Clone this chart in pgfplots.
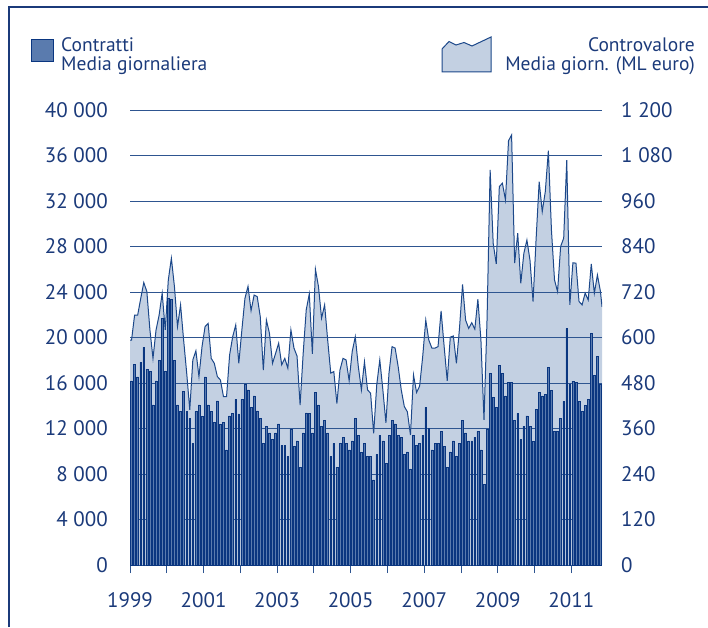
\documentclass[border=0pt]{standalone}
\usepackage{fontspec}
\setmainfont{PT Sans}
\usepackage{pgfplots}
\usepackage{pgfplotstable}
\pgfplotsset{compat=1.18}
\definecolor{navy}{RGB}{27,58,122}
\definecolor{bardraw}{RGB}{10,54,128}
\definecolor{barfill}{RGB}{90,123,174}
\definecolor{areafill}{RGB}{195,208,226}
\definecolor{arealine}{RGB}{28,72,138}
\definecolor{gridc}{RGB}{46,85,144}

\pgfplotstableread{
m v
0 16178
1 17643
2 16530
3 17819
4 19137
5 17204
6 17028
7 14068
8 16178
9 17995
10 21686
11 17028
12 23445
13 23357
14 17995
15 14068
16 13512
17 15240
18 13512
19 12896
20 10699
21 13482
22 14068
23 13043
24 16530
25 14068
26 13482
27 12516
28 14420
29 12369
30 12545
31 10113
32 13102
33 13336
34 14566
35 13277
36 14566
37 15885
38 15387
39 13863
40 14860
41 13541
42 12896
43 10699
44 12193
45 11607
46 11051
47 11607
48 12398
49 10523
50 10523
51 9556
52 11930
53 10435
54 10904
55 8589
56 11607
57 13365
58 13307
59 11607
60 15182
61 14068
62 12193
63 12721
64 11607
65 9556
66 10699
67 8589
68 10699
69 11226
70 10699
71 10113
72 10904
73 12896
74 11402
75 9908
76 10699
77 9556
78 9556
79 7476
80 9732
81 11402
82 10904
83 8941
84 11402
85 12721
86 12398
87 11402
88 11226
89 9732
90 9937
91 8443
92 11402
93 10523
94 10699
95 11402
96 13863
97 12017
98 10113
99 10699
100 10699
101 11753
102 10435
103 8589
104 9937
105 10904
106 9556
107 10699
108 12721
109 11607
110 10904
111 10904
112 11226
113 11753
114 10113
115 7095
116 11930
117 16853
118 14743
119 13865
120 17556
121 16853
122 14861
123 16062
124 16062
125 12722
126 13337
127 11052
128 12194
129 13103
130 12194
131 10876
132 13689
133 15183
134 14861
135 15007
136 17380
137 15359
138 11755
139 11755
140 12898
141 14393
142 20809
143 15886
144 16150
145 16062
146 14393
147 13514
148 14041
149 14568
150 20369
151 16677
152 18347
153 15886
}\bars

\pgfplotstableread{
m r
-0.5 593
0 593
1 659
2 659
3 703
4 745
5 721
6 620
7 545
8 620
9 659
10 717
11 620
12 752
13 809
14 734
15 629
16 686
17 593
18 506
19 409
20 541
21 565
22 497
23 576
24 629
25 637
26 545
27 532
28 497
29 488
30 444
31 444
32 554
33 602
34 633
35 532
36 620
37 703
38 735
39 671
40 712
41 708
42 655
43 514
44 646
45 611
46 532
47 558
48 585
49 528
50 545
51 519
52 620
53 572
54 551
55 422
56 558
57 673
58 715
59 557
60 780
61 734
62 651
63 686
64 593
65 506
66 510
67 426
68 514
69 545
70 541
71 486
72 563
73 602
74 523
75 462
76 536
77 462
78 453
79 347
80 475
81 541
82 462
83 375
84 506
85 576
86 572
87 523
88 462
89 418
90 404
91 343
92 501
93 455
94 472
95 550
96 646
97 593
98 572
99 572
100 576
101 670
102 576
103 486
104 601
105 604
106 532
107 624
108 740
109 646
110 624
111 639
112 622
113 701
114 593
115 383
116 650
117 1042
118 848
119 794
120 998
121 1007
122 963
123 1119
124 1134
125 796
126 875
127 743
128 822
129 857
130 804
131 695
132 860
133 1011
134 932
135 985
136 1093
137 884
138 752
139 721
140 840
141 862
142 1068
143 686
144 797
145 796
146 695
147 686
148 717
149 699
150 794
151 717
152 765
153 721
153.5 681
}\area

\begin{document}
\begin{tikzpicture}[x=1pt,y=1pt]
\path[use as bounding box] (0pt,0pt) rectangle (708pt,627pt);
\draw[navy, line width=2pt] (9pt,0pt) -- (9pt,619.5pt) -- (708pt,619.5pt);

% legend
\draw[bardraw, fill=barfill, line width=1pt] (31pt,565pt) rectangle (53pt,587pt);
\node[anchor=base west, inner sep=0pt, text=navy, font=\fontsize{19.5}{21}\selectfont] at (61pt,575pt) {Contratti};
\node[anchor=base west, inner sep=0pt, text=navy, font=\fontsize{19.5}{21}\selectfont] at (61pt,556.5pt) {Media giornaliera};
\draw[arealine, fill=areafill, line width=1pt] (442pt,555pt) -- (442pt,578pt) -- (449pt,585.5pt) -- (456pt,582pt) -- (464pt,584.5pt) -- (472pt,581pt) -- (491pt,590pt) -- (491pt,555pt) -- cycle;
\node[anchor=base east, inner sep=0pt, text=navy, font=\fontsize{19.5}{21}\selectfont] at (695pt,575pt) {Controvalore};
\node[anchor=base east, inner sep=0pt, text=navy, font=\fontsize{19.5}{21}\selectfont] at (695pt,556.5pt) {Media giorn. (ML euro)};

% right axis: area
\begin{axis}[
  at={(130pt,62pt)}, anchor=south west, scale only axis,
  width=472pt, height=455pt,
  xmin=-0.5, xmax=153.5, ymin=0, ymax=1200,
  axis line style={draw=none},
  xtick=\empty,
  ytick={0,120,...,1200},
  yticklabels={0,120,240,360,480,600,720,840,960,1 080,1 200},
  yticklabel pos=right,
  ytick style={draw=none},
  major tick length=0pt,
  ymajorgrids, grid style={gridc, line width=0.9pt},
  axis on top,
  yticklabel style={anchor=west, inner sep=0pt, xshift=19pt, text=navy, font=\fontsize{21}{24}\selectfont},
]
\addplot[draw=none, fill=areafill] table[x=m, y=r]{\area} \closedcycle;
\addplot[draw=arealine, line width=1pt, mark=none] table[x=m, y=r]{\area};
\end{axis}

% left axis: bars
\begin{axis}[
  at={(130pt,62pt)}, anchor=south west, scale only axis,
  width=472pt, height=455pt,
  xmin=-0.5, xmax=153.5, ymin=0, ymax=40000,
  axis line style={draw=none},
  scaled y ticks=false,
  ytick={0,4000,...,40000},
  yticklabels={0,4 000,8 000,12 000,16 000,20 000,24 000,28 000,32 000,36 000,40 000},
  ytick style={draw=none},
  xtick={-0.5,11.5,...,143.5},
  xticklabels={1999,,2001,,2003,,2005,,2007,,2009,,2011},
  xtick pos=left,
  tick align=outside,
  major tick length=8pt,
  x tick style={draw=gridc, line width=1pt},
  yticklabel style={anchor=east, inner sep=0pt, xshift=-14pt, text=navy, font=\fontsize{21}{24}\selectfont},
  xticklabel style={anchor=north, inner sep=0pt, yshift=-19pt, text=navy, font=\fontsize{21}{24}\selectfont},
  clip=false,
]
\addplot[ybar, bar width=0.6, fill=barfill, draw=bardraw, line width=0.55pt] table[x=m, y=v]{\bars};
\end{axis}
\end{tikzpicture}
\end{document}
